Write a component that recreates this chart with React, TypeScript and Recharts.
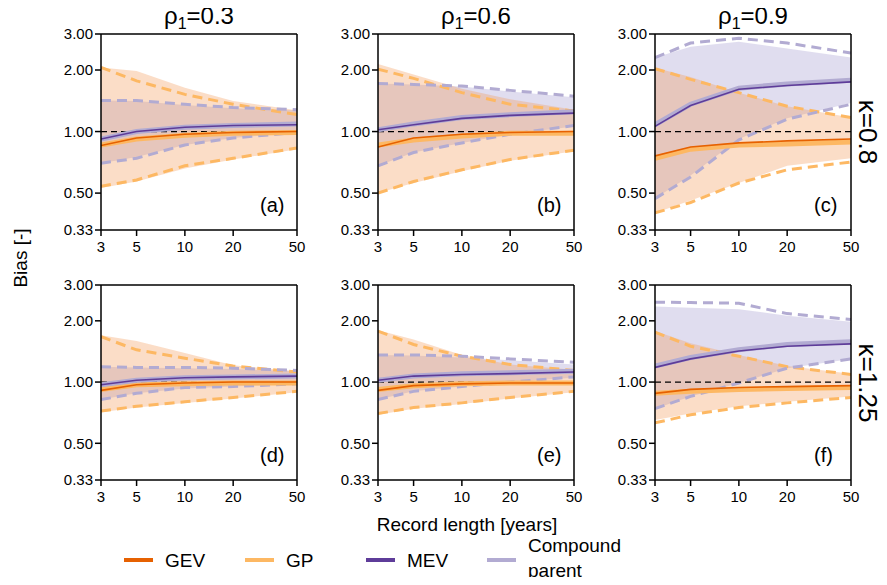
import {
  Area,
  ComposedChart,
  Line,
  ReferenceLine,
  XAxis,
  YAxis,
} from "recharts"

// record lengths [years] and axis ticks
const RECORD_LENGTHS = [3, 5, 10, 20, 50]
const X_TICKS = [3, 5, 10, 20, 50]
const Y_TICKS = [0.33, 0.5, 1, 2, 3]
const RHO_LABELS = ["0.3", "0.6", "0.9"]
const KAPPA_LABELS = ["0.8", "1.25"]
const PANEL_LETTERS = ["(a)", "(b)", "(c)", "(d)", "(e)", "(f)"]

// one row per panel (a..f), one value per record length
const GEV_MED = [
  [0.855, 0.93, 0.97, 0.99, 1.0],
  [0.84, 0.93, 0.97, 0.99, 1.0],
  [0.76, 0.84, 0.88, 0.9, 0.92],
  [0.91, 0.97, 0.99, 1.0, 1.0],
  [0.91, 0.96, 0.98, 0.99, 0.99],
  [0.88, 0.92, 0.94, 0.95, 0.96],
]
const GEV_LO = [
  [0.53, 0.57, 0.66, 0.73, 0.82],
  [0.5, 0.56, 0.64, 0.72, 0.8],
  [0.4, 0.46, 0.56, 0.68, 0.74],
  [0.71, 0.75, 0.79, 0.83, 0.89],
  [0.69, 0.74, 0.78, 0.83, 0.89],
  [0.65, 0.7, 0.76, 0.8, 0.85],
]
const GEV_HI = [
  [2.06, 1.98, 1.64, 1.41, 1.27],
  [2.14, 1.9, 1.62, 1.44, 1.28],
  [2.05, 1.85, 1.55, 1.33, 1.17],
  [1.7, 1.59, 1.39, 1.21, 1.13],
  [1.8, 1.62, 1.36, 1.22, 1.15],
  [1.78, 1.55, 1.36, 1.2, 1.1],
]
const GP_MED = [
  [0.86, 0.92, 0.96, 0.98, 0.99],
  [0.86, 0.91, 0.95, 0.98, 0.98],
  [0.74, 0.82, 0.86, 0.87, 0.89],
  [0.92, 0.97, 0.98, 0.99, 0.99],
  [0.92, 0.96, 0.98, 0.99, 0.99],
  [0.88, 0.9, 0.92, 0.93, 0.94],
]
const GP_LO = [
  [0.54, 0.58, 0.68, 0.74, 0.83],
  [0.5, 0.57, 0.65, 0.73, 0.81],
  [0.4, 0.45, 0.56, 0.65, 0.71],
  [0.72, 0.76, 0.8, 0.84, 0.9],
  [0.7, 0.75, 0.79, 0.84, 0.9],
  [0.63, 0.69, 0.75, 0.79, 0.84],
]
const GP_HI = [
  [2.06, 1.77, 1.52, 1.36, 1.21],
  [2.02, 1.82, 1.55, 1.36, 1.26],
  [2.03, 1.8, 1.55, 1.33, 1.17],
  [1.67, 1.44, 1.31, 1.2, 1.12],
  [1.78, 1.53, 1.34, 1.22, 1.14],
  [1.76, 1.5, 1.34, 1.19, 1.09],
]
const MEV_MED = [
  [0.92, 1.0, 1.05, 1.07, 1.08],
  [1.02, 1.08, 1.16, 1.2, 1.23],
  [1.06, 1.34, 1.61, 1.68, 1.75],
  [0.97, 1.02, 1.05, 1.06, 1.07],
  [1.02, 1.07, 1.09, 1.1, 1.12],
  [1.18, 1.3, 1.42, 1.5, 1.54],
]
const MEV_LO = [
  [0.7, 0.75, 0.86, 0.93, 0.99],
  [0.68, 0.79, 0.88, 0.97, 1.06],
  [0.47, 0.61, 0.92, 1.16, 1.38],
  [0.82, 0.88, 0.93, 0.95, 0.98],
  [0.82, 0.9, 0.95, 1.0, 1.05],
  [0.74, 0.85, 0.99, 1.17, 1.3],
]
const MEV_HI = [
  [1.42, 1.41, 1.35, 1.3, 1.27],
  [1.72, 1.7, 1.66, 1.57, 1.47],
  [2.3, 2.6, 2.75, 2.55, 2.3],
  [1.19, 1.18, 1.17, 1.16, 1.13],
  [1.36, 1.35, 1.32, 1.28, 1.22],
  [2.35, 2.32, 2.28, 2.12, 1.98],
]
const CP_MED = [
  [0.92, 1.0, 1.05, 1.07, 1.09],
  [1.02, 1.09, 1.17, 1.21, 1.25],
  [1.08, 1.36, 1.63, 1.71, 1.78],
  [0.97, 1.02, 1.05, 1.06, 1.07],
  [1.02, 1.07, 1.1, 1.11, 1.13],
  [1.2, 1.32, 1.44, 1.53, 1.58],
]
const CP_LO = [
  [0.7, 0.74, 0.86, 0.93, 0.99],
  [0.68, 0.79, 0.88, 0.97, 1.07],
  [0.47, 0.6, 0.91, 1.15, 1.36],
  [0.82, 0.88, 0.94, 0.95, 0.98],
  [0.82, 0.9, 0.95, 1.0, 1.06],
  [0.74, 0.85, 0.99, 1.17, 1.3],
]
const CP_HI = [
  [1.42, 1.42, 1.36, 1.31, 1.28],
  [1.72, 1.7, 1.67, 1.59, 1.49],
  [2.3, 2.71, 2.86, 2.71, 2.42],
  [1.19, 1.18, 1.18, 1.17, 1.14],
  [1.36, 1.36, 1.34, 1.3, 1.25],
  [2.47, 2.46, 2.44, 2.17, 2.03],
]

const GEV_COLOR = "#e66101"
const GP_COLOR = "#fdb863"
const MEV_COLOR = "#5e3c99"
const CP_COLOR = "#b2abd2"
const FONT = "'Liberation Sans', Arial, sans-serif"

const PLOT_W = 196
const COL_LEFT = [101, 378, 655]
const ROW_TOP = [34, 285]
const ROW_H = [196, 195]
const Y_AXIS_W = 62

const tickStyle = { fontSize: 15, fill: "#000", fontFamily: FONT }

const Panel = ({ idx }: { idx: number }) => {
  const row = Math.floor(idx / 3)
  const col = idx % 3
  const left = COL_LEFT[col]
  const top = ROW_TOP[row]
  const h = ROW_H[row]
  const data = RECORD_LENGTHS.map((n, i) => ({
    n,
    gevBand: [GEV_LO[idx][i], GEV_HI[idx][i]],
    mevBand: [MEV_LO[idx][i], MEV_HI[idx][i]],
    gevMed: GEV_MED[idx][i],
    gpMed: GP_MED[idx][i],
    gpLo: GP_LO[idx][i],
    gpHi: GP_HI[idx][i],
    mevMed: MEV_MED[idx][i],
    cpMed: CP_MED[idx][i],
    cpLo: CP_LO[idx][i],
    cpHi: CP_HI[idx][i],
  }))

  const dashed = (key: string, color: string) => (
    <Line
      type="linear"
      dataKey={key}
      stroke={color}
      strokeWidth={3}
      strokeDasharray="10 6"
      dot={false}
      activeDot={false}
      isAnimationActive={false}
    />
  )

  return (
    <div style={{ position: "absolute", left: left - Y_AXIS_W, top: top - 10 }}>
      <ComposedChart
        width={PLOT_W + Y_AXIS_W + 12}
        height={h + 10 + 30}
        data={data}
        margin={{ top: 10, right: 12, bottom: 0, left: 0 }}
      >
        <XAxis
          dataKey="n"
          type="number"
          scale="log"
          domain={[3, 50]}
          ticks={X_TICKS}
          allowDataOverflow
          height={30}
          tick={{ ...tickStyle, dy: 3 }}
          tickSize={6}
          axisLine={{ stroke: "#000", strokeWidth: 1.5 }}
          tickLine={{ stroke: "#000", strokeWidth: 1.5 }}
          interval={0}
        />
        <YAxis
          type="number"
          scale="log"
          domain={[0.33, 3]}
          ticks={Y_TICKS}
          allowDataOverflow
          width={Y_AXIS_W}
          tick={tickStyle}
          tickSize={6}
          tickFormatter={(v: number) => v.toFixed(2)}
          axisLine={{ stroke: "#000", strokeWidth: 1.5 }}
          tickLine={{ stroke: "#000", strokeWidth: 1.5 }}
          interval={0}
        />
        <Area
          type="linear"
          dataKey="mevBand"
          stroke="none"
          fill="#a096ce"
          fillOpacity={0.32}
          isAnimationActive={false}
          activeDot={false}
        />
        <Area
          type="linear"
          dataKey="gevBand"
          stroke="none"
          fill="#f29a5a"
          fillOpacity={0.34}
          isAnimationActive={false}
          activeDot={false}
        />
        {dashed("gpHi", GP_COLOR)}
        {dashed("gpLo", GP_COLOR)}
        {dashed("cpHi", CP_COLOR)}
        {dashed("cpLo", CP_COLOR)}
        <ReferenceLine y={1} stroke="#000" strokeWidth={1.3} strokeDasharray="6 4" />
        <Line type="linear" dataKey="gpMed" stroke={GP_COLOR} strokeWidth={5} dot={false} activeDot={false} isAnimationActive={false} />
        <Line type="linear" dataKey="cpMed" stroke={CP_COLOR} strokeWidth={5} dot={false} activeDot={false} isAnimationActive={false} />
        <Line type="linear" dataKey="gevMed" stroke={GEV_COLOR} strokeWidth={1.6} dot={false} activeDot={false} isAnimationActive={false} />
        <Line type="linear" dataKey="mevMed" stroke={MEV_COLOR} strokeWidth={1.6} dot={false} activeDot={false} isAnimationActive={false} />
        <ReferenceLine y={3} stroke="#000" strokeWidth={1.5} />
        <ReferenceLine x={50} stroke="#000" strokeWidth={1.5} />
      </ComposedChart>
      <div
        style={{
          position: "absolute",
          left: Y_AXIS_W + PLOT_W - 37,
          top: 10 + h - 36,
          fontSize: 20,
          lineHeight: "22px",
          fontFamily: FONT,
        }}
      >
        {PANEL_LETTERS[idx]}
      </div>
    </div>
  )
}

const LEGEND = [
  { label: "GEV", color: GEV_COLOR, x: 124 },
  { label: "GP", color: GP_COLOR, x: 245 },
  { label: "MEV", color: MEV_COLOR, x: 366 },
  { label: "Compound\nparent", color: CP_COLOR, x: 487 },
]

export default function App() {
  return (
    <div
      style={{
        position: "relative",
        width: 887,
        height: 585,
        margin: -8,
        background: "#fff",
        fontFamily: FONT,
        color: "#000",
        overflow: "hidden",
      }}
    >
      {[0, 1, 2, 3, 4, 5].map((i) => (
        <Panel key={i} idx={i} />
      ))}
      {RHO_LABELS.map((r, i) => (
        <div
          key={r}
          style={{
            position: "absolute",
            left: COL_LEFT[i],
            width: PLOT_W,
            top: 3,
            textAlign: "center",
            fontSize: 24,
            lineHeight: "26px",
          }}
        >
          ρ<sub style={{ fontSize: 16, verticalAlign: "-5px", lineHeight: 0 }}>1</sub>={r}
        </div>
      ))}
      {KAPPA_LABELS.map((k, i) => (
        <div
          key={k}
          style={{
            position: "absolute",
            left: 868,
            top: ROW_TOP[i] + ROW_H[i] / 2,
            transform: "translate(-50%, -50%) rotate(90deg)",
            fontSize: 26,
            lineHeight: "28px",
            whiteSpace: "nowrap",
          }}
        >
          κ={k}
        </div>
      ))}
      <div
        style={{
          position: "absolute",
          left: 21,
          top: 258,
          transform: "translate(-50%, -50%) rotate(-90deg)",
          fontSize: 19,
          whiteSpace: "nowrap",
        }}
      >
        Bias [-]
      </div>
      <div
        style={{
          position: "absolute",
          left: 467,
          top: 525,
          transform: "translate(-50%, -50%)",
          fontSize: 19,
          whiteSpace: "nowrap",
        }}
      >
        Record length [years]
      </div>
      {LEGEND.map((l) => (
        <div key={l.label}>
          <div
            style={{
              position: "absolute",
              left: l.x,
              top: 558,
              width: 29,
              height: 4,
              background: l.color,
            }}
          />
          <div
            style={{
              position: "absolute",
              left: l.x + 41,
              top: l.label.includes("\n") ? 533 : 548,
              fontSize: 19,
              lineHeight: "25px",
              whiteSpace: "pre",
            }}
          >
            {l.label}
          </div>
        </div>
      ))}
    </div>
  )
}
